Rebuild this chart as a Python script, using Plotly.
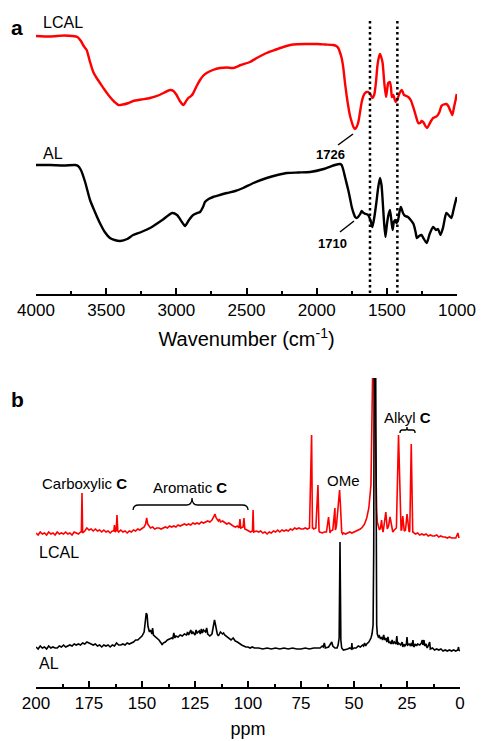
import plotly.graph_objects as go

W, H = 481, 741
FONT = "Liberation Sans, Arial, sans-serif"

# ---------------- FTIR (panel a) : transmittance, arbitrary units ----------------
ftir_wn_lcal = [4000, 3900, 3800, 3740, 3705, 3680, 3660, 3639, 3615, 3592, 3568, 3544, 3510, 3473, 3440, 3413,
                3380, 3340, 3307, 3250, 3188, 3120, 3045, 3020, 2998, 2975, 2950, 2930, 2915, 2895, 2879, 2855,
                2831, 2810, 2784, 2740, 2689, 2640, 2594, 2540, 2475, 2420, 2357, 2300, 2238, 2167, 2080, 2001,
                1940, 1881, 1860, 1846, 1835, 1822, 1810, 1798, 1786, 1774, 1762, 1750, 1738, 1727, 1715, 1703,
                1691, 1679, 1667, 1655, 1643, 1632, 1615, 1601, 1590, 1584, 1576, 1568, 1558, 1549, 1540, 1530,
                1518, 1506, 1498, 1490, 1478, 1470, 1464, 1454, 1445, 1437, 1428, 1419, 1405, 1394, 1386, 1378,
                1360, 1347, 1330, 1312, 1295, 1276, 1262, 1253, 1245, 1236, 1225, 1213, 1200, 1185, 1170, 1155,
                1142, 1125, 1111, 1095, 1076, 1062, 1050, 1040, 1033, 1021, 1010, 1002]
ftir_lcal = [264, 263.5, 264.5, 264, 263, 259, 254, 250, 238, 228, 222, 217, 210, 203, 198, 195,
             195.5, 197, 199, 200.5, 202, 205, 210, 209, 205, 199, 195, 199, 202, 204, 207, 214,
             220, 224, 227, 230, 232, 232.5, 232, 235, 238, 242.5, 247, 250, 253, 255.5, 256, 256,
             255.5, 255, 254, 252, 248, 242, 232, 217, 204, 193, 184, 178, 173, 171, 173, 178,
             188, 198, 204, 207, 208, 208, 205, 202, 205, 210, 220, 233, 242, 246, 243, 237,
             217, 203, 210, 217, 218, 212, 203, 205, 201, 198, 200, 203, 208, 210, 208, 205,
             204, 203, 200, 193, 185, 177, 177, 179, 178.5, 177, 174, 172, 175, 179, 182, 183,
             184, 188, 194, 195.5, 196, 194, 190, 187, 185, 193, 200, 206]

ftir_wn_al = [4000, 3900, 3800, 3720, 3700, 3680, 3650, 3615, 3580, 3545, 3510, 3473, 3440, 3400, 3350, 3308,
              3250, 3187, 3100, 3030, 2995, 2960, 2938, 2910, 2880, 2850, 2831, 2810, 2796, 2770, 2738, 2690,
              2639, 2580, 2524, 2450, 2356, 2280, 2211, 2130, 2047, 1950, 1870, 1833, 1822, 1810, 1798, 1775,
              1760, 1750, 1735, 1726, 1715, 1705, 1690, 1679, 1665, 1650, 1634, 1615, 1603, 1590, 1575, 1562,
              1549, 1538, 1530, 1520, 1510, 1500, 1490, 1478, 1468, 1459, 1450, 1440, 1432, 1420, 1410, 1400,
              1385, 1370, 1350, 1330, 1310, 1295, 1286, 1270, 1253, 1240, 1216, 1195, 1170, 1150, 1135, 1118,
              1100, 1076, 1060, 1040, 1025, 1015, 1002]
ftir_al = [135, 135, 134.5, 135, 134, 130, 118, 100, 88, 77, 68, 62, 60, 59, 61, 65,
           68, 72, 80, 87, 85, 78, 74, 80, 85, 87, 88, 93, 98, 101, 103, 105,
           107, 109, 112, 117, 122, 125, 127, 127.5, 128, 131, 135, 136, 135, 130, 123, 110,
           100, 93, 86, 83, 82, 83, 86, 89, 87, 86, 85, 79, 73, 82, 97, 112,
           122, 115, 100, 78, 63, 75, 84, 90, 80, 70, 78, 80, 77, 80, 88, 93,
           87, 84, 83, 80, 76, 68, 62, 64, 65, 62, 57, 66, 73, 70, 71, 65,
           72, 87, 85, 82, 90, 96, 103]

ftir_ticks = [4000, 3500, 3000, 2500, 2000, 1500, 1000]
dotted_wn = [1620, 1425]

# ---------------- 13C NMR (panel b) : intensity, arbitrary units ----------------
nmr_ppm_lcal = [200, 199, 198, 197, 196, 195, 194, 193, 192, 191, 190, 189, 188, 187, 186, 185, 184, 183, 182, 181,
                180, 179, 178.6, 178.3, 178.0, 177, 176, 175, 174, 173, 172, 171, 170, 169, 168, 167, 166, 165, 164,
                163.3, 163.0, 162.7, 162.2, 161.8, 161.4, 161, 160, 159, 158, 157, 156, 155, 154, 153, 152, 151, 150,
                149, 148.3, 147.8, 147.3, 146.5, 146, 145, 144, 143, 142, 141, 140, 139, 138, 137, 136, 135, 134, 133,
                132, 131, 130, 129, 128, 127, 126, 125, 124, 123, 122, 121, 120, 119, 118, 117, 116.2, 115.6, 115.0,
                114, 113.5, 113, 112, 111, 110, 109, 108, 107, 106, 105, 104.2, 103.8, 103.4, 102.3, 101.9, 101.5,
                100.5, 99.5, 98.8, 97.9, 97.6, 97.3, 96, 95, 94, 93, 92, 91, 90, 89, 88, 87, 86, 85, 84, 83, 82, 81,
                80, 79, 78, 77, 76, 75, 74, 73, 72, 71, 70, 69.6, 69.3, 69.0, 68, 67, 66.8, 66.5, 66.2, 65, 64, 63,
                62, 61.6, 61.3, 61.0, 60, 59, 58.8, 58.5, 58.2, 57.5, 56.8, 56.4, 56.1, 55.8, 55.4, 55, 54, 53, 52,
                51, 50, 49, 48, 47, 46, 45, 44, 43, 42, 41.5, 41.0, 40.7, 40.5, 39.6, 39.3, 39.0, 38.5, 38, 37.5, 37,
                36.6, 36.3, 36.0, 35, 34.3, 34.0, 33.7, 33, 32.3, 32.0, 31.7, 31, 30, 29, 28.1, 27.8, 27.5, 27, 26.3,
                26.0, 25.7, 25, 24.3, 24.0, 23.7, 23, 22.3, 22.0, 21.7, 21, 20, 19, 18, 17, 16, 15, 14, 13, 12, 11,
                10, 9, 8, 7, 6, 5, 4, 3, 2, 1, 0.7, 0.5, 0.3, 0]
nmr_lcal = [167, 165, 168, 166, 167, 165, 168, 166, 167, 165, 168, 166, 167, 166, 168, 166, 167, 165, 168, 167,
            166, 168, 168, 207, 167, 169, 172, 170, 171, 169, 171, 169, 170, 168, 170, 168, 169, 167, 169,
            169, 175, 168, 169, 185, 169, 168, 170, 168, 169, 167, 169, 168, 170, 169, 171, 170, 172,
            173, 176, 182, 176, 174, 172, 173, 171, 172, 172, 171, 172, 173, 172, 174, 173, 174, 173, 175,
            174, 175, 176, 175, 176, 175, 177, 176, 177, 176, 178, 177, 178, 179, 178, 180, 183, 186, 182,
            179, 181, 178, 179, 177, 176, 177, 175, 174, 173, 174, 172, 181, 172, 173, 182, 171,
            170, 169, 168, 169, 190, 168, 169, 168, 169, 167, 168, 166, 168, 167, 169, 168, 170, 168, 170, 169,
            170, 169, 171, 170, 172, 171, 172, 171, 171, 172, 171, 172, 265, 172, 172, 171, 172, 215, 171, 169, 168, 167,
            168, 168, 183, 168, 167, 169, 170, 192, 170, 172, 176, 195, 210, 195, 174, 168, 166, 167, 166,
            167, 168, 167, 168, 169, 170, 171, 173, 176, 182, 192, 215, 330, 400, 400, 330, 210, 190, 178, 173, 170,
            172, 180, 171, 168, 172, 188, 171, 172, 174, 183, 172, 170, 168, 170, 172, 265, 171, 170, 170,
            184, 169, 170, 170, 186, 169, 168, 169, 256, 168, 168, 167, 166, 167, 165, 166, 165, 166, 164, 165, 164,
            164, 165, 163, 164, 163, 163, 162, 163, 162, 162, 162, 167, 162, 162]

nmr_ppm_al = [200, 199, 198, 197, 196, 195, 194, 193, 192, 191, 190, 189, 188, 187, 186, 185, 184, 183, 182, 181,
              180, 179, 178, 177, 176, 175, 174, 173, 172, 171, 170, 169, 168, 167, 166, 165, 164, 163, 162, 161,
              160, 159, 158, 157, 156, 155, 154, 153, 152, 151, 150, 149, 148.5, 148.0, 147.6, 147.2, 146.5, 146,
              145.3, 145, 144.6, 144, 143, 142, 141, 140.5, 140, 139, 138, 137, 136, 135.5, 135, 134.5, 134, 133,
              132, 131, 130, 129, 128.5, 128, 127, 126.5, 126, 125, 124.5, 124, 123, 122.5, 122, 121.5, 121, 120,
              119.5, 119, 118, 117, 116.4, 115.8, 115.4, 115, 114.5, 114, 113, 112, 111.5, 111, 110, 109, 108, 107,
              106, 105, 104, 103, 102, 101, 100, 99, 98, 97, 95, 93, 91, 89, 87, 85, 83, 81, 79, 77, 75, 73, 71,
              69, 67, 66, 65, 64.5, 64, 63.5, 62, 61, 60.5, 60, 59, 58, 57.5, 57, 56.8, 56.6, 56.4, 56.2, 55.8, 55,
              53, 52, 51.2, 51, 50.8, 50, 49, 48, 47, 46, 45.5, 45, 44.5, 44, 43, 42, 41.5, 41, 40.7, 40.4, 39.9,
              39.6, 39.3, 39, 38.5, 38, 37.5, 37, 36.5, 36, 35.5, 35, 34.5, 34, 33.5, 33, 32.5, 32, 31.5, 31, 30.2,
              29.8, 29.4, 29, 28, 27.3, 27, 26.5, 26, 25.3, 25, 24.7, 24, 23.3, 23, 22.6, 22.2, 21.8, 21, 20.5, 20,
              19, 18.2, 17.8, 17.5, 17, 16.6, 16, 15.5, 15, 14.3, 14, 13, 12, 11, 10, 9, 8, 7, 6, 5, 4, 3, 2, 1,
              0.7, 0.5, 0]
nmr_al = [53, 51, 54, 52, 53, 51, 54, 52, 53, 52, 52, 54, 53, 55, 53, 54, 55, 54, 56, 55,
          56, 55, 57, 56, 58, 57, 56, 55, 56, 54, 55, 53, 55, 54, 55, 53, 55, 54, 57, 55,
          55, 56, 55, 57, 56, 57, 58, 60, 60, 62, 64, 68, 75, 87, 85, 74, 68, 70,
          66, 72, 65, 64, 62, 60, 57, 55, 57, 58, 60, 61, 62, 61, 67, 62, 64, 63,
          65, 64, 66, 65, 68, 65, 70, 66, 68, 65, 70, 67, 69, 66, 71, 67, 70, 68,
          72, 66, 64, 66, 72, 80, 76, 70, 66, 64, 68, 66, 67, 65, 63, 62, 60, 62,
          59, 58, 56, 55, 54, 53, 53, 52, 53, 52, 52, 51, 52, 51, 52, 51, 52, 51, 52, 51, 51, 52, 51,
          52, 52, 52, 54, 53, 57, 52, 53, 57, 58, 54, 52, 52, 55, 62, 110, 158, 110, 60, 52, 50,
          51, 52, 51, 57, 51, 52, 52, 54, 53, 55, 54, 57, 54, 56, 58, 62, 66, 75, 150, 400, 400,
          150, 75, 66, 63, 64, 61, 63, 60, 65, 60, 62, 58, 63, 57, 58, 56, 60, 56, 58, 56,
          64, 55, 57, 55, 58, 53, 56, 54, 56, 63, 55, 56, 54, 57, 54, 60, 53, 56, 54, 56,
          55, 57, 60, 55, 60, 54, 56, 52, 54, 58, 51, 52, 50, 51, 50, 51, 49, 50, 49, 50, 49, 50, 49, 50,
          53, 50, 49]

nmr_ticks = [200, 175, 150, 125, 100, 75, 50, 25, 0]

RED = "#ff0000"
BLACK = "#000000"

fig = go.Figure()
fig.add_trace(go.Scatter(x=ftir_wn_lcal, y=ftir_lcal, mode="lines", line=dict(color=RED, width=2.4, shape="spline", smoothing=0.6),
                         xaxis="x", yaxis="y", showlegend=False, hoverinfo="skip"))
fig.add_trace(go.Scatter(x=ftir_wn_al, y=ftir_al, mode="lines", line=dict(color=BLACK, width=2.4, shape="spline", smoothing=0.6),
                         xaxis="x", yaxis="y", showlegend=False, hoverinfo="skip"))
fig.add_trace(go.Scatter(x=nmr_ppm_lcal, y=nmr_lcal, mode="lines", line=dict(color=RED, width=1.6),
                         xaxis="x2", yaxis="y2", showlegend=False, hoverinfo="skip"))
fig.add_trace(go.Scatter(x=nmr_ppm_al, y=nmr_al, mode="lines", line=dict(color=BLACK, width=1.6),
                         xaxis="x2", yaxis="y2", showlegend=False, hoverinfo="skip"))

def px(x):
    return x / W

def py(y):
    return 1 - y / H

axis_common = dict(showgrid=False, zeroline=False, showline=True, linecolor="black", linewidth=2,
                   ticks="inside", ticklen=6, tickwidth=2, tickcolor="black", automargin=False,
                   tickfont=dict(family=FONT, size=17, color="black"))

fig.update_layout(
    width=W, height=H, margin=dict(l=0, r=0, t=0, b=0, autoexpand=False),
    paper_bgcolor="white", plot_bgcolor="white",
    xaxis=dict(domain=[px(36), px(457)], range=[4000, 1000], anchor="y",
               tickvals=ftir_ticks,
               minor=dict(ticks="inside", ticklen=3, tickwidth=2, tickcolor="black", dtick=250, tick0=1000),
               title=dict(text="Wavenumber (cm<sup>-1</sup>)", font=dict(family=FONT, size=20, color="black"), standoff=13),
               **axis_common),
    yaxis=dict(domain=[py(294), py(15)], range=[6, 285], visible=False),
    xaxis2=dict(domain=[px(36), px(460)], range=[200, 0], anchor="y2",
                tickvals=nmr_ticks,
                minor=dict(ticks="inside", ticklen=3, tickwidth=2, tickcolor="black", dtick=12.5, tick0=0),
                title=dict(text="ppm", font=dict(family=FONT, size=18, color="black"), standoff=10),
                **axis_common),
    yaxis2=dict(domain=[py(687), py(378)], range=[13, 322], visible=False),
)

# dotted marker lines
for wn in dotted_wn:
    fig.add_shape(type="line", xref="x", yref="y", x0=wn, x1=wn, y0=7, y1=281,
                  line=dict(color="black", width=2.5, dash="2.5px,3px"))

# leader lines for the carbonyl labels
fig.add_shape(type="line", xref="x", yref="y", x0=1848, y0=155, x1=1741, y1=166, line=dict(color="black", width=1.5))
fig.add_shape(type="line", xref="x", yref="y", x0=1834, y0=68, x1=1734, y1=79, line=dict(color="black", width=1.5))

# braces in panel b
fig.add_shape(type="path", xref="x2", yref="y2",
              path="M 154.2,190 Q 154.2,195 151.5,195 L 129,195 Q 126.4,195 126.4,202 Q 126.4,195 123.8,195 L 102.7,195 Q 100,195 100,190",
              line=dict(color="black", width=1.3))
fig.add_shape(type="path", xref="x2", yref="y2",
              path="M 28.3,267 Q 28.3,270 27.3,270 L 25.6,270 Q 25,270 25,273 Q 25,270 24.4,270 L 22.2,270 Q 21.2,270 21.2,267",
              line=dict(color="black", width=1.3))

def note(text, x, y, size, xanchor="center", bold=False):
    fig.add_annotation(text=f"<b>{text}</b>" if bold else text, x=px(x), y=py(y), xref="paper", yref="paper",
                       xanchor=xanchor, yanchor="middle", showarrow=False,
                       font=dict(family=FONT, size=size, color="black"))

note("a", 9, 27, 21, "left", bold=True)
note("LCAL", 41, 23, 16, "left")
note("AL", 41, 154, 16, "left")
note("1726", 330, 155, 13, bold=True)
note("1710", 332, 243, 13, bold=True)

note("b", 9, 399, 21, "left", bold=True)
note("Carboxylic <b>C</b>", 84, 483, 15)
note("Aromatic <b>C</b>", 190, 487, 15)
note("OMe", 343, 480, 15)
note("Alkyl <b>C</b>", 407, 417, 15)
note("LCAL", 37, 552, 16, "left")
note("AL", 37, 663, 16, "left")

fig.write_html("out.html", config={"displayModeBar": False},
               post_script="document.body.style.margin='0px';document.body.style.overflow='hidden';")
